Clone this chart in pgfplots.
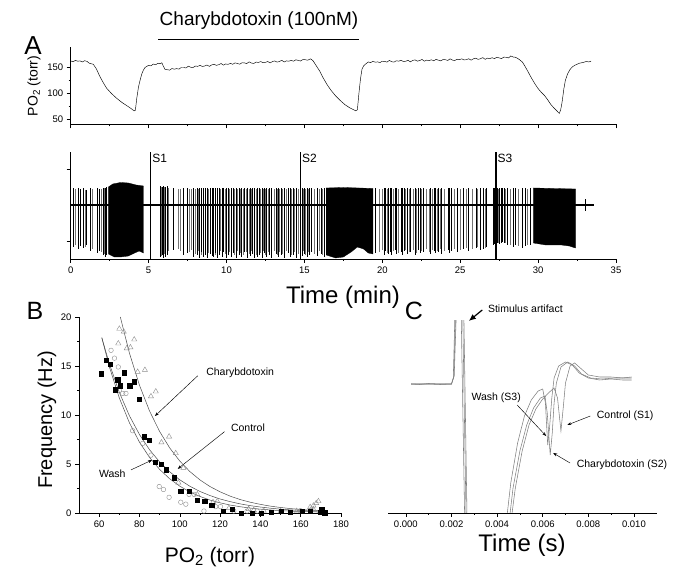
\documentclass[border=0pt]{standalone}
\usepackage{pgfplots}
\usepackage{pgfplotstable}
\pgfplotsset{compat=1.18}
\usepackage{fontspec}
\setmainfont{Liberation Sans}
\usetikzlibrary{arrows.meta}

\pgfplotstableread{
t top bot
0.17 17 -42
0.49 17 -44
0.64 16 -41
0.81 17 -43
1.00 15 -40
1.24 17 -46
1.67 17 -48
1.84 16 -46
2.06 17 -50
2.21 17 -52
2.31 18 -50
5.74 19 -52
5.85 18 -50
5.91 19 -53
6.06 18 -52
6.17 19 -50
6.60 17 -45
7.24 17 -50
7.46 17 -48
7.88 17 -52
8.10 17 -50
8.27 17 -53
8.40 17 -47
8.53 17 -52
8.63 17 -50
8.74 17 -53
8.96 17 -49
9.10 17 -51
9.17 17 -52
9.30 17 -48
9.39 17 -53
9.50 17 -50
9.70 17 -52
9.80 17 -47
10.00 17 -53
10.10 17 -50
10.28 17 -52
10.41 17 -48
10.60 17 -53
10.83 17 -50
10.97 17 -52
11.13 17 -47
11.33 17 -53
11.52 17 -51
11.66 17 -49
11.80 17 -53
11.99 17 -52
12.07 17 -50
12.27 17 -53
12.40 17 -48
12.57 17 -52
12.76 17 -50
12.90 17 -53
13.18 17 -49
13.31 17 -52
13.50 17 -50
13.73 17 -53
13.95 17 -48
14.06 17 -52
14.28 17 -50
14.45 17 -53
14.83 17 -51
14.97 17 -49
15.16 17 -52
15.33 17 -50
15.44 17 -47
15.80 17 -51
16.08 17 -49
16.27 17 -52
19.57 17 -48
20.10 17 -50
20.20 17 -46
20.40 17 -49
20.50 17 -47
20.60 17 -50
20.80 17 -45
20.90 17 -49
21.20 17 -47
21.30 17 -50
21.40 17 -46
21.60 17 -49
21.80 17 -47
22.10 17 -50
22.30 17 -45
22.40 17 -48
22.60 17 -47
23.10 17 -49
23.30 17 -46
23.40 17 -48
23.60 17 -47
23.80 17 -49
24.20 17 -45
24.30 17 -48
24.40 17 -46
24.80 17 -47
25.20 17 -44
25.50 17 -46
26.00 17 -43
26.30 17 -45
26.50 17 -44
26.70 17 -42
27.10 17 -40
27.20 17 -39
27.40 17 -38
27.50 17 -39
27.60 17 -38
27.70 17 -37
27.80 17 -38
28.00 17 -40
28.40 17 -42
28.50 17 -40
29.00 17 -43
29.20 17 -41
29.50 17 -40
33.00 6 -6
}\spikes

\pgfplotstableread{
t top bot
0.30 16 -40
0.95 15 -42
1.40 16 -44
1.95 16 -47
2.15 17 -49
5.80 18 -51
6.00 18 -49
6.25 17 -46
6.90 16 -44
7.05 16 -46
7.60 16 -47
7.75 16 -45
8.00 16 -49
8.20 16 -46
8.35 16 -50
8.85 16 -48
9.05 16 -47
9.25 16 -50
9.60 16 -46
9.90 16 -49
10.20 16 -47
10.50 16 -50
10.70 16 -46
10.90 16 -48
11.05 16 -50
11.25 16 -47
11.45 16 -49
11.60 16 -46
11.90 16 -50
12.15 16 -48
12.35 16 -46
12.50 16 -50
12.65 16 -47
12.85 16 -49
13.05 16 -46
13.25 16 -50
13.40 16 -47
13.60 16 -49
13.85 16 -46
14.15 16 -50
14.35 16 -47
14.60 16 -49
14.90 16 -46
15.05 16 -50
15.25 16 -47
15.60 16 -49
15.95 16 -46
16.15 16 -50
19.80 16 -47
20.00 16 -45
20.30 16 -48
20.70 16 -46
21.00 16 -48
21.50 16 -45
21.70 16 -47
22.00 16 -45
22.20 16 -48
22.50 16 -46
22.80 16 -44
23.00 16 -47
23.20 16 -45
23.50 16 -46
23.70 16 -44
24.00 16 -46
24.60 16 -44
25.00 16 -45
25.40 16 -43
25.80 16 -44
26.10 16 -42
26.60 16 -43
27.35 16 -37
27.45 16 -38
27.65 16 -36
27.90 16 -38
28.20 16 -40
28.70 16 -41
29.30 16 -40
}\spikesb

\pgfplotsset{
  base/.style={scale only axis, anchor=south west,
    axis x line*=bottom, axis y line*=left,
    tick align=outside, tick style={black, line width=0.5pt},
    major tick length=4pt, minor tick length=2pt,
    axis line style={line width=0.6pt},
    tick label style={font=\fontsize{9.5}{11}\selectfont},
    /pgf/number format/assume math mode=true},
}

\begin{document}
\begin{tikzpicture}
\useasboundingbox (0pt,0pt) rectangle (676pt,572pt);

% ---------------- Panel A, PO2 trace ----------------
\begin{axis}[base, at={(70.7pt,447.7pt)}, width=545.3pt, height=77.6pt,
  xmin=0, xmax=35, ymin=40, ymax=190,
  xtick={0,5,...,35}, xticklabels={}, minor x tick num=1,
  ytick={50,100,150}, minor y tick num=1]
\addplot[black, line width=0.45pt] coordinates {
(0.0,162.5) (0.15,161) (0.3,163.5) (0.45,162) (0.6,162.5) (0.75,160.5) (0.9,163) (1.05,161.5)
(1.2,158) (1.45,156) (1.65,147) (1.88,132) (2.1,120) (2.3,110) (2.6,100) (2.96,90)
(3.3,82) (3.6,76) (3.85,71) (4.07,66) (4.15,67) (4.24,90) (4.35,112) (4.46,126)
(4.57,138) (4.67,145) (4.78,150) (4.89,152) (5.0,154) (5.15,153) (5.31,156.5) (5.45,155)
(5.6,158) (5.75,157) (5.85,159) (5.95,152) (6.06,146)
(6.2,145.5) (6.35,144.7) (6.5,147.8) (6.65,146.5) (6.8,147.6) (6.95,146.7) (7.1,149.8) (7.25,149.8)
(7.4,148.8) (7.55,152.3) (7.7,150.3) (7.85,149.7) (8.0,152.6) (8.15,152.0) (8.3,153.9) (8.45,151.8)
(8.6,152.7) (8.75,154.6) (8.9,151.9) (9.05,154.8) (9.2,156.1) (9.35,153.9) (9.5,155.2) (9.65,157.5)
(9.8,154.3) (9.95,156.6) (10.1,155.9) (10.25,157.7) (10.4,156.0) (10.55,158.7) (10.7,157.5) (10.85,156.2)
(11.0,159.0) (11.15,158.7) (11.3,157.4) (11.45,160.7) (11.6,158.4) (11.75,157.6) (11.9,160.3) (12.05,159.5)
(12.2,161.3) (12.35,159.0) (12.5,159.7) (12.65,161.4) (12.8,158.6) (12.95,161.3) (13.1,162.5) (13.25,160.2)
(13.4,161.4) (13.55,163.7) (13.7,160.4) (13.85,162.6) (14.0,161.9) (14.15,163.6) (14.3,161.9) (14.45,164.7)
(14.6,163.5) (14.75,162.3) (14.9,165.1) (15.05,164.9) (15.2,163.8) (15.4,166.5)
(15.55,163) (15.7,156) (15.85,149) (16.0,142) (16.2,130)
(16.45,117) (16.7,106) (17.0,95) (17.3,86) (17.6,78) (17.9,72) (18.1,69) (18.3,66)
(18.4,68) (18.5,100) (18.6,128) (18.7,147) (18.8,153) (18.95,157)
(19.1,160.5) (19.25,159.2) (19.4,161.8) (19.55,160.0) (19.7,160.6) (19.85,159.3) (20.0,161.9) (20.15,161.6)
(20.3,160.2) (20.45,163.4) (20.6,161.0) (20.75,160.2) (20.9,162.8) (21.05,162.0) (21.2,163.6) (21.35,161.3)
(21.5,161.9) (21.65,163.6) (21.8,160.7) (21.95,163.4) (22.1,164.5) (22.25,162.1) (22.4,163.2) (22.55,165.3)
(22.7,161.9) (22.85,164.0) (23.0,163.1) (23.15,164.7) (23.3,162.8) (23.45,165.4) (23.6,164.0) (23.75,162.6)
(23.9,165.2) (24.05,164.8) (24.2,163.4) (24.35,166.5) (24.5,164.1) (24.65,163.2) (24.8,165.8) (24.95,164.9)
(25.1,166.6) (25.25,164.3) (25.4,165.0) (25.55,166.7) (25.7,163.9) (25.85,166.6) (26.0,167.8) (26.15,165.5)
(26.3,166.7) (26.45,168.9) (26.6,165.6) (26.75,167.8) (26.9,167.0) (27.05,168.7) (27.2,166.9) (27.35,169.6)
(27.5,168.3) (27.65,167.0) (27.8,169.8) (27.95,169.5) (28.1,168.3) (28.25,172.1) (28.4,170)
(28.5,170) (28.65,168) (28.8,165)
(29.0,160) (29.2,150) (29.4,139) (29.6,128) (29.8,118) (30.0,109) (30.2,102) (30.4,96)
(30.6,88) (30.8,79) (31.0,72) (31.2,66) (31.36,61) (31.45,68) (31.55,85) (31.65,108)
(31.75,125) (31.9,138) (32.05,146) (32.2,151) (32.35,154) (32.5,156) (32.65,158) (32.8,159)
(32.95,160) (33.1,161.5) (33.25,160.5) (33.4,162)};
\end{axis}
\node[rotate=90, font=\fontsize{14}{15}\selectfont] at (34pt,486pt) {PO\textsubscript{2} (torr)};
\node[font=\fontsize{26}{28}\selectfont] at (33pt,526pt) {A};
\node[font=\fontsize{19}{21}\selectfont] at (259pt,551pt) {Charybdotoxin (100nM)};
\draw[line width=1pt] (158pt,532pt) -- (359pt,532pt);

% ---------------- Panel A, spike trace ----------------
\begin{axis}[base, at={(70.7pt,313pt)}, width=545.3pt, height=107pt,
  xmin=0, xmax=35, ymin=-54, ymax=53,
  xtick={0,5,...,35}, minor x tick num=1,
  ytick={-36.7,35.7}, yticklabels={}]
\addplot[ycomb, black!55, line width=0.4pt] table[x=t, y=top] {\spikesb};
\addplot[ycomb, black!55, line width=0.4pt] table[x=t, y=bot] {\spikesb};
\addplot[ycomb, black, line width=0.4pt] table[x=t, y=top] {\spikes};
\addplot[ycomb, black, line width=0.4pt] table[x=t, y=bot] {\spikes};
\addplot[fill=black, draw=black, line width=0.3pt] coordinates {
(2.42,18) (2.7,21) (3.2,22.5) (3.7,22) (4.2,20) (4.67,19)
(4.67,-48) (4.4,-46) (4.1,-48) (3.7,-51) (3.2,-52) (2.8,-52) (2.42,-49)} --cycle;
\addplot[fill=black, draw=black, line width=0.3pt] coordinates {
(16.4,17) (17.5,17.5) (18.5,17) (19.4,16.5)
(19.4,-49) (19.1,-48) (18.8,-44) (18.4,-42) (18.0,-47) (17.5,-52) (17.0,-53) (16.4,-50)} --cycle;
\addplot[fill=black, draw=black, line width=0.3pt] coordinates {
(29.7,17) (31.0,16.5) (32.4,16)
(32.4,-43) (32.0,-41) (31.5,-40) (30.5,-40) (29.7,-38)} --cycle;
\addplot[black, line width=2.2pt] coordinates {(0,0) (33.6,0)};
\addplot[black, line width=1.4pt] coordinates {(5.14,-54) (5.14,53)}
  node[pos=1, anchor=north west, inner sep=1pt, font=\fontsize{12}{13}\selectfont] {S1};
\addplot[black, line width=1.4pt] coordinates {(14.75,-54) (14.75,53)}
  node[pos=1, anchor=north west, inner sep=1pt, font=\fontsize{12}{13}\selectfont] {S2};
\addplot[black, line width=1.4pt] coordinates {(27.3,-54) (27.3,53)}
  node[pos=1, anchor=north west, inner sep=1pt, font=\fontsize{12}{13}\selectfont] {S3};
\end{axis}
\node[font=\fontsize{24}{26}\selectfont] at (343pt,275pt) {Time (min)};

% ---------------- Panel B ----------------
\begin{axis}[base, at={(79pt,59pt)}, width=262pt, height=196pt,
  xmin=50, xmax=180, ymin=0, ymax=20, clip=false,
  xtick={60,80,...,180}, minor x tick num=1,
  ytick={0,5,10,15,20}, minor y tick num=1]
% Charybdotoxin (open triangles)
\addplot[only marks, mark=triangle, mark size=3pt, color=black!45, line width=0.4pt] coordinates {
(70.0,18.8) (72.2,18.5) (69.5,17.3) (73.7,16.8) (75.5,16.9) (77.4,17.7) (79.1,14.4) (82.7,14.6)
(85.7,11.9) (88.1,12.4) (90.9,7.2) (94.7,7.8) (98.0,6.1) (101.8,4.6) (99.3,3.1) (108.7,1.9)
(116.5,1.1) (118.6,1.2) (124.4,0.5) (134.2,0.4) (136.7,0.3) (141.6,0.24) (150,0.15) (158,0.2)
(164.7,0.6) (166.3,0.75) (167.7,1.0) (168.8,1.2) (166.3,0.4) (170,0.2)};
% Wash (open circles)
\addplot[only marks, mark=o, mark size=2.3pt, color=black!45, line width=0.4pt] coordinates {
(65.9,16.6) (67.6,15.8) (69.5,14.9) (70.0,12.5) (71.7,12.2) (73.3,12.2) (76.6,8.4) (81.6,7.1)
(85.7,5.9) (89.8,2.7) (91.9,2.4) (94.7,1.6) (100.5,1.1) (103.0,0.9) (104.6,1.9) (107.1,1.9)
(112.0,0.2) (117.8,0.65) (120.2,0.65) (126.8,0.2) (133.4,0.2) (138.4,0.2) (159.8,0.24) (165.5,0.4)};
% Control (filled squares)
\addplot[only marks, mark=square*, mark size=2.2pt, color=black] coordinates {
(61.0,14.2) (63.5,15.6) (65.6,15.2) (67.9,12.6) (69.2,13.6) (70.5,13.0) (72.5,14.3) (75.1,13.0)
(77.4,13.4) (79.8,11.6) (82.4,7.8) (84.9,7.4) (87.7,5.2) (90.9,5.0) (93.4,4.4) (97.2,3.6)
(100.5,2.2) (104.6,2.2) (108.7,1.3) (112.3,1.2) (115.8,0.8) (121.6,0.2) (126.0,0.4) (130.5,0)
(135.9,0) (140.3,0) (145.3,0.07) (150.4,0.17) (154.8,0.07) (160.6,0.2) (164.7,0.17) (170.5,0.4)
(170,0.07) (172,0.05)};
% fitted curves
\addplot[black!70, line width=0.5pt] coordinates {
(70.5,20) (75,16.33) (80,13.04) (85,10.41) (90,8.32) (95,6.64) (100,5.30) (105,4.23)
(110,3.38) (115,2.70) (120,2.16) (125,1.72) (130,1.37) (135,1.10) (140,0.88) (145,0.70)
(150,0.56) (155,0.45) (160,0.36) (165,0.28) (170,0.23) (172,0.21)};
\addplot[black!70, line width=0.5pt] coordinates {
(61.3,17.9) (65,15.27) (70,12.31) (75,9.93) (80,8.01) (85,6.46) (90,5.21) (95,4.20)
(100,3.39) (105,2.73) (110,2.20) (115,1.78) (120,1.43) (125,1.16) (130,0.93) (135,0.75)
(140,0.61) (145,0.49) (150,0.39) (155,0.32) (160,0.26) (165,0.21) (170,0.17) (172,0.155)};
\addplot[black!70, line width=0.5pt] coordinates {
(61.3,17.9) (65,14.96) (70,11.74) (75,9.21) (80,7.23) (85,5.67) (90,4.45) (95,3.49)
(100,2.74) (105,2.15) (110,1.69) (115,1.32) (120,1.04) (125,0.81) (130,0.64) (135,0.50)
(140,0.39) (145,0.31) (150,0.24) (155,0.19) (160,0.15) (165,0.12) (170,0.09) (172,0.085)};
\draw[-{Stealth[length=4pt,width=3pt]}, line width=0.45pt] (axis cs:108.9,14.0) -- (axis cs:87.7,9.9);
\node[anchor=west, font=\fontsize{10.5}{12}\selectfont] at (axis cs:111.4,14.3) {Charybdotoxin};
\draw[-{Stealth[length=4pt,width=3pt]}, line width=0.45pt] (axis cs:122.2,8.3) -- (axis cs:99.0,4.5);
\node[anchor=west, font=\fontsize{10.5}{12}\selectfont] at (axis cs:123.7,8.7) {Control};
\draw[-{Stealth[length=4pt,width=3pt]}, line width=0.45pt] (axis cs:75.8,4.4) -- (axis cs:86.2,5.4);
\node[anchor=east, font=\fontsize{10.5}{12}\selectfont] at (axis cs:74.8,4.0) {Wash};
\end{axis}
\node[font=\fontsize{25}{27}\selectfont] at (35pt,261pt) {B};
\node[rotate=90, font=\fontsize{20}{22}\selectfont] at (47pt,152pt) {Frequency (Hz)};
\node[font=\fontsize{21}{23}\selectfont] at (210pt,15pt) {PO\textsubscript{2} (torr)};

% ---------------- Panel C ----------------
\begin{axis}[base, at={(388.3pt,59pt)}, width=268.4pt, height=192pt,
  axis y line=none,
  xmin=-0.00077, xmax=0.011, ymin=0, ymax=192, clip mode=individual,
  xtick={0,0.002,0.004,0.006,0.008,0.010}, minor x tick num=1,
  scaled x ticks=false,
  xticklabel style={/pgf/number format/fixed, /pgf/number format/fixed zerofill,
    /pgf/number format/precision=3}]
% Wash (S3)
\addplot[black!50, line width=0.55pt] coordinates {
(0.00023,129) (0.0006,128.5) (0.0010,129.5) (0.0015,129) (0.0020,129) (0.00208,135)
(0.00222,260) (0.00238,260) (0.00262,-60) (0.0035,-200) (0.0043,-60)
(0.0044,-10) (0.0046,30) (0.0049,70) (0.0052,97) (0.0055,113) (0.0058,122) (0.0060,124)
(0.00612,110) (0.00622,68) (0.0063,85) (0.0064,115) (0.0065,135) (0.0067,147) (0.0070,151)
(0.0073,148) (0.0076,140) (0.0080,135) (0.0085,133) (0.0090,134) (0.0095,133) (0.0099,133)};
% Charybdotoxin (S2)
\addplot[black!50, line width=0.55pt] coordinates {
(0.00023,129) (0.0006,129) (0.0010,129) (0.0015,128.5) (0.0020,129) (0.00210,136)
(0.00226,260) (0.00245,260) (0.00268,-60) (0.0035,-200) (0.0044,-60)
(0.00452,-10) (0.0047,25) (0.0050,62) (0.0053,88) (0.0056,105) (0.0059,115) (0.0061,117)
(0.0062,100) (0.00633,58) (0.00642,80) (0.0065,110) (0.0066,130) (0.0068,146) (0.0071,151)
(0.0074,147) (0.0077,139) (0.0081,135) (0.0086,134) (0.0092,135) (0.0099,135)};
% Control (S1)
\addplot[black!50, line width=0.55pt] coordinates {
(0.00023,129) (0.0006,129) (0.0010,129) (0.0015,129) (0.0020,129) (0.00212,137)
(0.00230,260) (0.00250,260) (0.00272,-60) (0.0035,-200) (0.0045,-60)
(0.0046,-10) (0.0048,25) (0.0051,62) (0.0054,88) (0.0057,104) (0.0060,114) (0.0063,121)
(0.0065,125) (0.00665,115) (0.0068,82) (0.0069,105) (0.0070,130) (0.0072,147) (0.0074,150)
(0.0077,144) (0.0080,138) (0.0085,136) (0.0090,136) (0.0095,135) (0.0099,136)};
\draw[-{Latex[length=7pt,width=6pt]}, line width=1.2pt] (axis cs:0.00335,203) -- (axis cs:0.00276,192);
\node[anchor=west, font=\fontsize{10.5}{12}\selectfont] at (axis cs:0.00345,204) {Stimulus artifact};
\node[font=\fontsize{10.5}{12}\selectfont] at (axis cs:0.00396,115) {Wash (S3)};
\draw[-{Stealth[length=4pt,width=3pt]}, line width=0.45pt] (axis cs:0.00488,108) -- (axis cs:0.00615,77);
\node[anchor=west, font=\fontsize{10.5}{12}\selectfont] at (axis cs:0.00822,97) {Control (S1)};
\draw[-{Stealth[length=4pt,width=3pt]}, line width=0.45pt] (axis cs:0.00809,97) -- (axis cs:0.00708,88);
\node[anchor=west, font=\fontsize{10.5}{12}\selectfont] at (axis cs:0.00734,48) {Charybdotoxin (S2)};
\draw[-{Stealth[length=4pt,width=3pt]}, line width=0.45pt] (axis cs:0.0072,50) -- (axis cs:0.00646,60);
\end{axis}
\node[font=\fontsize{25}{27}\selectfont] at (414pt,261pt) {C};
\node[font=\fontsize{24}{26}\selectfont] at (522pt,27pt) {Time (s)};
\end{tikzpicture}
\end{document}
